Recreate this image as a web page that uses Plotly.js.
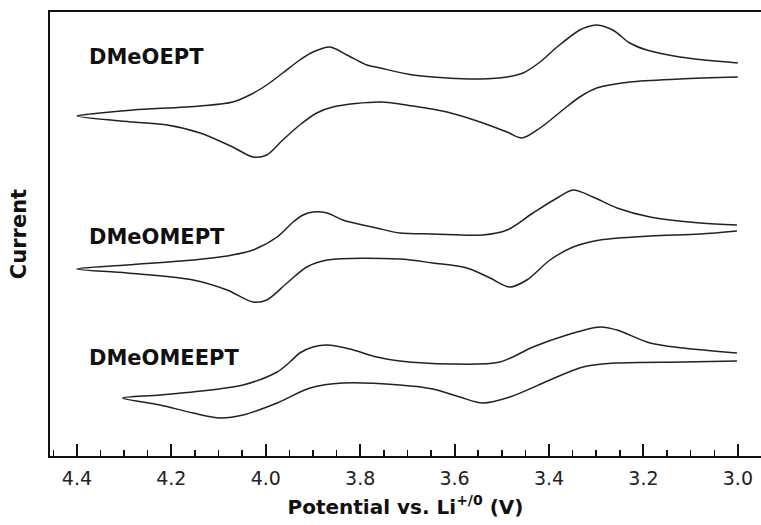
<!DOCTYPE html>
<html>
<head>
<meta charset="utf-8">
<script src="https://cdn.plot.ly/plotly-3.0.1.min.js"></script>
<style>html,body{margin:0;padding:0;background:#fff;}#chart{width:761px;height:525px;}</style>
</head>
<body>
<div id="chart"></div>
<script>
// Potential (V vs Li+/0) and current (arbitrary units, offset per compound), in scan order
const dmeoeptPotential = [3.000,3.123,3.193,3.229,3.265,3.299,3.320,3.335,3.383,3.419,3.455,3.489,3.546,3.616,3.688,3.758,3.786,3.828,3.864,3.900,3.928,3.964,3.998,4.034,4.070,4.139,4.281,4.351,4.400,
  4.281,4.209,4.139,4.070,4.027,3.998,3.964,3.928,3.892,3.858,3.758,3.688,3.616,3.546,3.489,3.457,3.419,3.371,3.335,3.299,3.229,3.123,3.000];
const dmeoeptCurrent = [393,399,406,413,426,431,429,426,409,394,383,379,377,378,381,388,391,401,409,404,396,383,371,361,354,350,346,343,340,
  334,331,323,309,299,301,316,331,343,349,354,350,344,334,324,318,328,346,359,368,374,377,379];

const dmeomeptPotential = [3.002,3.080,3.186,3.256,3.307,3.349,3.383,3.434,3.489,3.540,3.646,3.716,3.765,3.837,3.870,3.900,3.921,3.942,3.976,4.027,4.082,4.154,4.294,4.400,
  4.294,4.154,4.082,4.027,3.998,3.955,3.913,3.870,3.716,3.646,3.574,3.525,3.483,3.447,3.398,3.349,3.292,3.186,3.080,3.002];
const dmeomeptCurrent = [231,233,239,248,259,266,258,243,226,221,222,223,228,236,243,244,241,234,219,206,200,196,191,187,
  183,176,166,154,156,173,189,196,197,193,188,178,169,176,196,209,216,220,222,225];

const dmeomeeptPotential = [3.002,3.116,3.186,3.256,3.292,3.362,3.434,3.504,3.610,3.716,3.765,3.822,3.870,3.900,3.928,3.949,3.976,4.048,4.118,4.224,4.303,
  4.224,4.154,4.097,4.048,3.976,3.906,3.837,3.716,3.646,3.589,3.540,3.483,3.398,3.328,3.256,3.116,3.002];
const dmeomeeptCurrent = [103,108,113,126,129,121,109,94,92,95,99,107,111,109,103,94,84,71,66,61,58,
  51,43,38,41,53,68,73,71,67,59,53,59,76,89,93,94,95];

const compoundNames = ['DMeOEPT','DMeOMEPT','DMeOMEEPT'];
const xTickValues = [4.4,4.2,4.0,3.8,3.6,3.4,3.2,3.0];

const series = [
  [dmeoeptPotential, dmeoeptCurrent],
  [dmeomeptPotential, dmeomeptCurrent],
  [dmeomeeptPotential, dmeomeeptCurrent]
];
const labelY = [399, 219, 98];

const traces = series.map((s, i) => ({
  x: s[0], y: s[1], type: 'scatter', mode: 'lines', name: compoundNames[i],
  line: {color: '#222', width: 1.5, shape: 'spline', smoothing: 0.9},
  hoverinfo: 'skip'
}));

const annotations = compoundNames.map((n, i) => ({
  text: n, x: 4.379, y: labelY[i], xref: 'x', yref: 'y',
  xanchor: 'left', yanchor: 'middle', showarrow: false,
  font: {family: 'DejaVu Sans', size: 21, weight: 700, color: '#111'}
}));

const layout = {
  width: 761, height: 525,
  margin: {l: 50, r: 0, t: 12, b: 69},
  paper_bgcolor: '#fff', plot_bgcolor: '#fff',
  showlegend: false,
  xaxis: {
    range: [4.457, 2.951], tickvals: xTickValues, tickformat: '.1f',
    ticks: 'inside', ticklen: 12, tickwidth: 2, tickcolor: '#111',
    minor: {ticks: 'inside', ticklen: 6, tickwidth: 1.5, dtick: 0.05, tick0: 3.0, tickcolor: '#111', showgrid: false},
    showline: true, linecolor: '#111', linewidth: 2, mirror: true,
    showgrid: false, zeroline: false,
    ticklabelstandoff: 4,
    tickfont: {family: 'DejaVu Sans', size: 19, color: '#222'},
    title: {text: 'Potential vs. Li<sup>+/0</sup> (V)', standoff: 12,
      font: {family: 'DejaVu Sans', size: 20, weight: 700, color: '#111'}}
  },
  yaxis: {
    range: [0, 444], showticklabels: false, ticks: '',
    showline: true, linecolor: '#111', linewidth: 2,
    showgrid: false, zeroline: false,
    title: {text: 'Current', standoff: 16,
      font: {family: 'DejaVu Sans', size: 21, weight: 700, color: '#111'}}
  },
  annotations: annotations
};

Plotly.newPlot('chart', traces, layout, {displayModeBar: false, staticPlot: true});
</script>
</body>
</html>
